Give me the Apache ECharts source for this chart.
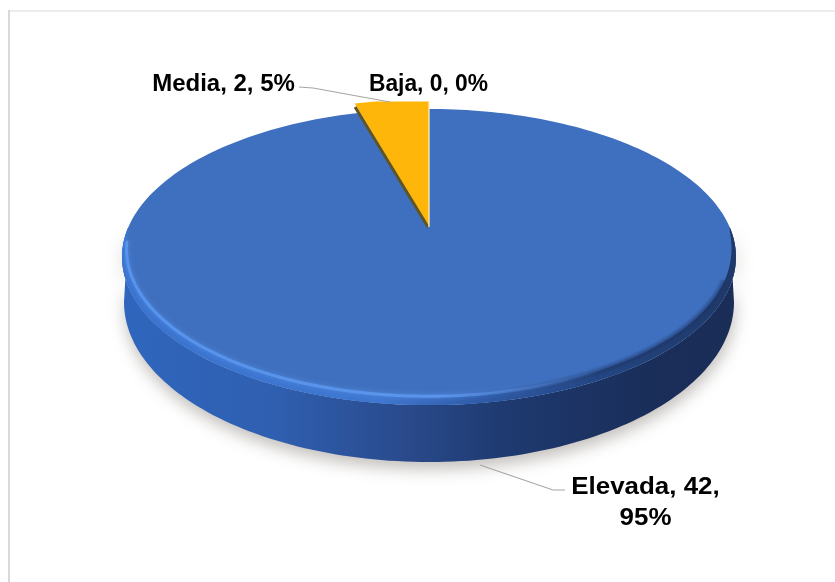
<!DOCTYPE html>
<html>
<head>
<meta charset="utf-8">
<style>html,body{margin:0;padding:0;background:#fff}#chart{width:835px;height:582px}</style>
<script src="https://cdn.jsdelivr.net/npm/echarts@6/dist/echarts.min.js"></script>
</head>
<body>
<div id="chart"></div>
<script>
// Nivel de riesgo: categorías, recuentos y porcentajes rotulados
const categories = ['Elevada', 'Media', 'Baja'];
const counts = [42, 2, 0];
const percents = [95, 5, 0];

// Proyección en perspectiva del disco: ángulo en sentido horario desde arriba
const disc = { cx: 429, cy: 227, k: 300.6, a: 142, c: 0.2027 };
const base = { cx: 429, cy: 302, rx: 305, ry: 160 };
const labelStyle = { font: 'bold 24px "Liberation Sans", Arial, sans-serif', fill: '#000', lineHeight: 31 };
const labelPlacement = [
  { x: 645.5, y: 503, sx: 1.08, leader: [[480, 465], [553, 490], [565, 490]] },
  { x: 223.5, y: 84, sx: 1.0, leader: [[299, 87], [313, 88], [390, 102]] },
  { x: 428.5, y: 84, sx: 0.95, leader: null }
];
const wedgeTopLimit = 101.5;

const total = counts.reduce((s, v) => s + v, 0);

function project(theta, r = 1) {
  const u = r * Math.sin(theta), v = r * Math.cos(theta), w = 1 + disc.c * v;
  return [disc.cx + disc.k * u / w, disc.cy - disc.a * v / w];
}
function arc(from, to, r = 1, n = 160) {
  const pts = [];
  for (let i = 0; i <= n; i++) {
    const t = from + (to - from) * i / n;
    pts.push(project(t, typeof r === 'function' ? r(t) : r));
  }
  return pts;
}
function baseArc(from, to, n = 120) {
  const pts = [];
  for (let i = 0; i <= n; i++) {
    const t = from + (to - from) * i / n;
    pts.push([base.cx + base.rx * Math.sin(t), base.cy - base.ry * Math.cos(t)]);
  }
  return pts;
}
const horizontal = (stops) => new echarts.graphic.LinearGradient(0, 0, 1, 0, stops);
const rad = (d) => d * Math.PI / 180;

// Radio interior del bisel frontal: se estrecha hacia los extremos del arco
function bevelRadius(t) {
  const s = Math.max(0, Math.sin((t - rad(90)) / rad(180) * Math.PI));
  return 1 - 0.04 * Math.pow(s, 0.6);
}

function labelText(i) {
  const t = `${categories[i]}, ${counts[i]}, ${percents[i]}%`;
  return i === 0 ? `${categories[i]}, ${counts[i]},\n${percents[i]}%` : t;
}

function renderSlice(params, api) {
  const i = params.dataIndex;
  const value = api.value(0);
  const before = counts.slice(0, i).reduce((s, v) => s + v, 0);
  const start = before / total * 2 * Math.PI;
  const end = (before + value) / total * 2 * Math.PI;
  const apex = project(0, 0);
  const children = [];

  if (i === 0) {
    // Pared lateral con sombra suave debajo del disco
    children.push({
      type: 'polygon', shape: { points: baseArc(rad(90), rad(270)).concat(arc(rad(270), rad(90), 1, 80)) },
      style: {
        fill: horizontal([
          { offset: 0, color: '#2f66bd' }, { offset: 0.25, color: '#2f5fb0' },
          { offset: 0.45, color: '#2a4b8e' }, { offset: 0.62, color: '#1e3a70' },
          { offset: 0.85, color: '#1a2e5a' }, { offset: 1, color: '#1a2d57' }
        ]),
        shadowBlur: 16, shadowOffsetY: 7, shadowOffsetX: 1, shadowColor: 'rgba(70,60,50,0.33)'
      }
    });
    // Cara superior
    children.push({
      type: 'polygon',
      shape: { points: [apex].concat(arc(start, end, 1, 240)) },
      style: { fill: '#3f70bf' }
    });
    // Bisel frontal, claro a la izquierda y oscuro hacia la derecha
    const ringPts = arc(rad(90), rad(270), 1, 120).concat(arc(rad(270), rad(90), bevelRadius, 120));
    children.push({
      type: 'polygon', shape: { points: ringPts },
      style: {
        fill: horizontal([
          { offset: 0, color: '#3a74cf' }, { offset: 0.42, color: '#3f77d0' },
          { offset: 0.58, color: '#2f5ba8' }, { offset: 0.78, color: '#234581' },
          { offset: 1, color: '#1f3868' }
        ])
      }
    });
    // Degradado suave de la transición del lado derecho
    [[9, 0.14], [6, 0.2], [3, 0.3]].forEach(([w, a]) => {
      children.push({
        type: 'polyline', shape: { points: arc(rad(112), rad(175), bevelRadius, 80) },
        style: {
          stroke: horizontal([
            { offset: 0, color: 'rgba(28,50,98,0)' }, { offset: 0.5, color: `rgba(28,50,98,${a})` },
            { offset: 1, color: `rgba(28,50,98,${a})` }
          ]),
          lineWidth: w, fill: null, lineCap: 'round'
        }
      });
    });
    // Brillo del borde frontal izquierdo
    children.push({
      type: 'polyline', shape: { points: arc(rad(264), rad(150), bevelRadius, 120) },
      style: {
        stroke: horizontal([
          { offset: 0, color: 'rgba(88,150,240,0.9)' }, { offset: 0.65, color: 'rgba(92,150,236,0.95)' },
          { offset: 1, color: 'rgba(80,130,210,0)' }
        ]),
        lineWidth: 3, fill: null, shadowBlur: 5, shadowColor: 'rgba(88,146,232,0.8)', lineCap: 'round'
      }
    });
  } else if (value > 0) {
    // Sector destacado: arista oscura a la izquierda y borde superior recortado
    const outer = arc(start, end, 1.1, 30).map((p) => [Math.min(p[0] + 2.5, apex[0]), Math.max(p[1], wedgeTopLimit)]);
    children.push({
      type: 'polygon', shape: { points: [apex].concat(outer) },
      style: { fill: '#ffb60a' }
    });
    children.push({
      type: 'line',
      shape: { x1: apex[0] - 1, y1: apex[1], x2: project(start)[0] - 3, y2: project(start)[1] - 6 },
      style: { stroke: '#5f5425', lineWidth: 3 }
    });
    children.push({
      type: 'line',
      shape: { x1: apex[0], y1: apex[1], x2: apex[0], y2: wedgeTopLimit },
      style: { stroke: 'rgba(255,238,190,0.85)', lineWidth: 1.5 }
    });
  }

  const place = labelPlacement[i];
  if (place.leader) {
    children.push({
      type: 'polyline', shape: { points: place.leader },
      style: { stroke: '#a6a6a6', lineWidth: 1.2, fill: null }
    });
  }
  children.push({
    type: 'text', x: place.x, y: place.y, scaleX: place.sx,
    style: {
      text: labelText(i), font: labelStyle.font, fill: labelStyle.fill,
      lineHeight: labelStyle.lineHeight, align: 'center', verticalAlign: 'middle'
    }
  });
  return { type: 'group', children };
}

const chart = echarts.init(document.getElementById('chart'), null, { renderer: 'canvas' });
chart.setOption({
  animation: false,
  backgroundColor: '#fff',
  graphic: [
    { type: 'rect', shape: { x: 8, y: 10, width: 827, height: 2 }, style: { fill: '#ececec' } },
    { type: 'rect', shape: { x: 8, y: 10, width: 2, height: 572 }, style: { fill: '#d9d9d9' } }
  ],
  series: [{
    type: 'custom',
    coordinateSystem: 'none',
    renderItem: renderSlice,
    silent: true,
    data: categories.map((name, i) => ({ name, value: [counts[i], percents[i]] }))
  }]
});
</script>
</body>
</html>
